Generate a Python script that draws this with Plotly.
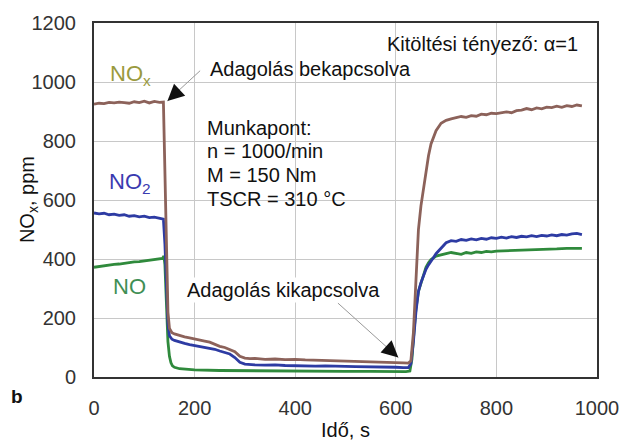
import plotly.graph_objects as go

# ---- data ----
nox_t = [0,10,20,30,40,50,60,70,80,90,100,110,120,130,138,141,144,147,150,155,160,170,180,190,200,210,220,230,240,250,260,270,280,290,300,310,320,340,360,380,400,420,440,460,480,500,520,540,560,580,600,615,625,630,635,640,645,650,655,660,665,670,675,680,690,700,710,720,730,740,750,760,770,780,790,800,810,820,830,840,850,860,870,880,890,900,910,920,930,940,950,960,970]
nox_v = [925,928,927,931,929,932,930,928,933,930,935,929,934,931,932,700,400,220,165,150,146,140,136,133,130,126,122,118,110,104,100,94,86,70,64,62,63,60,61,59,60,58,57,58,56,55,54,53,52,51,50,48,47,55,150,350,500,580,640,700,750,790,815,835,860,870,875,878,883,880,886,884,891,889,894,893,897,899,896,903,905,910,906,912,909,915,913,918,914,920,917,922,919]

no2_t = [0,10,20,30,40,50,60,70,80,90,100,110,120,130,138,141,144,147,150,155,160,170,180,190,200,210,220,230,240,250,260,270,280,290,300,310,320,340,360,380,400,420,440,460,480,500,520,540,560,580,600,615,625,630,635,640,645,650,655,660,665,670,675,680,690,700,710,720,730,740,750,760,770,780,790,800,810,820,830,840,850,860,870,880,890,900,910,920,930,940,950,960,970]
no2_v = [556,553,555,550,552,548,550,545,547,543,545,540,542,537,535,450,300,180,140,128,124,118,114,110,107,104,101,98,94,88,84,78,66,50,44,42,41,40,41,39,38,38,37,38,36,36,35,35,34,34,33,32,32,45,120,220,290,320,345,365,380,395,405,418,438,455,462,460,466,463,468,465,470,467,472,470,474,471,476,473,477,475,479,476,480,478,482,479,483,481,485,487,483]

no_t = [0,10,20,30,40,50,60,70,80,90,100,110,120,130,136,139,141,144,147,150,153,156,160,170,180,190,200,250,300,350,400,450,500,550,600,620,628,632,636,640,645,650,655,660,665,670,680,690,700,710,720,730,740,750,760,770,780,790,800,820,840,860,880,900,920,940,960,970]
no_v = [372,375,378,380,382,383,386,388,390,391,393,395,397,400,402,410,380,250,120,70,48,38,33,28,26,25,24,22,21,21,20,20,19,19,18,18,20,60,150,230,290,320,350,372,387,398,410,415,418,422,420,416,422,419,424,422,426,424,427,428,430,429,432,433,434,436,437,436]

x_ticks = [0, 200, 400, 600, 800, 1000]
y_ticks = [0, 200, 400, 600, 800, 1000, 1200]

FONT = "Liberation Sans, Arial, sans-serif"

fig = go.Figure()
fig.add_trace(go.Scatter(x=no_t, y=no_v, mode="lines", line=dict(color="#2f8a3c", width=2.8), showlegend=False))
fig.add_trace(go.Scatter(x=no2_t, y=no2_v, mode="lines", line=dict(color="#2d3ba3", width=2.8), showlegend=False))
fig.add_trace(go.Scatter(x=nox_t, y=nox_v, mode="lines", line=dict(color="#8c625a", width=2.8), showlegend=False))

fig.update_xaxes(range=[0, 1000], tickvals=x_ticks, showgrid=True, gridcolor="#c8c8c8", gridwidth=1,
                 showline=True, linecolor="#333333", linewidth=2, mirror=True, zeroline=False,
                 ticks="", ticklabelstandoff=12, tickfont=dict(family=FONT, size=20, color="#333333"))
fig.update_yaxes(range=[0, 1200], tickvals=y_ticks, showgrid=True, gridcolor="#c8c8c8", gridwidth=1,
                 showline=True, linecolor="#333333", linewidth=2, mirror=True, zeroline=False,
                 ticks="", ticklabelstandoff=12, tickfont=dict(family=FONT, size=20, color="#333333"))

ann = []
def t(x, y, text, size=20, color="#111111", xanchor="left", **kw):
    ann.append(dict(x=x, y=y, xref="x", yref="y", text=text, showarrow=False,
                    font=dict(family=FONT, size=size, color=color), xanchor=xanchor, yanchor="middle", **kw))

t(72, 1023, "NO<sub>x</sub>", size=22, color="#9a9a3e", xanchor="center")
t(72, 658, "NO<sub>2</sub>", size=22, color="#3a3ab0", xanchor="center")
t(70, 308, "NO", size=22, color="#3f8f55", xanchor="center")
t(226, 1045, "Adagolás bekapcsolva", size=20)
t(966, 1130, "Kitöltési tényező: α=1", size=20, xanchor="right")
t(221, 845, "Munkapont:", size=20)
t(221, 767, "n = 1000/min", size=20)
t(221, 686, "M = 150 Nm", size=20)
t(221, 605, "TSCR = 310 °C", size=20)
t(180, 294, "Adagolás kikapcsolva", size=20, bgcolor="white")

# arrows: grey shaft + black head
ann.append(dict(x=146, y=936, ax=214, ay=1043, xref="x", yref="y", axref="x", ayref="y",
                text="", showarrow=True, arrowhead=0, arrowwidth=1, arrowcolor="#999999"))
ann.append(dict(x=146, y=936, ax=162, ay=961, xref="x", yref="y", axref="x", ayref="y",
                text="", showarrow=True, arrowhead=2, arrowsize=2.2, arrowwidth=1.5, arrowcolor="#111111"))
ann.append(dict(x=605, y=66, ax=482, ay=255, xref="x", yref="y", axref="x", ayref="y",
                text="", showarrow=True, arrowhead=0, arrowwidth=1, arrowcolor="#999999"))
ann.append(dict(x=605, y=66, ax=592, ay=86, xref="x", yref="y", axref="x", ayref="y",
                text="", showarrow=True, arrowhead=2, arrowsize=2.2, arrowwidth=1.5, arrowcolor="#111111"))

# axis titles and panel letter
ann.append(dict(x=0.5, y=-0.15, xref="paper", yref="paper", text="Idő, s", showarrow=False,
                font=dict(family=FONT, size=20, color="#111111"), xanchor="center", yanchor="middle"))
ann.append(dict(x=-0.131, y=0.5, xref="paper", yref="paper", text="NO<sub>x</sub>, ppm", showarrow=False,
                textangle=-90, font=dict(family=FONT, size=20, color="#111111"), xanchor="center", yanchor="middle"))
ann.append(dict(x=-0.154, y=-0.054, xref="paper", yref="paper", text="<b>b</b>", showarrow=False,
                font=dict(family=FONT, size=19, color="#111111"), xanchor="center", yanchor="middle"))

fig.update_layout(width=631, height=442, margin=dict(l=94, r=26, t=21, b=65),
                  paper_bgcolor="white", plot_bgcolor="white", annotations=ann)

fig.write_html("out.html", config={"displayModeBar": False},
               post_script="document.body.style.margin='0';document.body.style.overflow='hidden';")
